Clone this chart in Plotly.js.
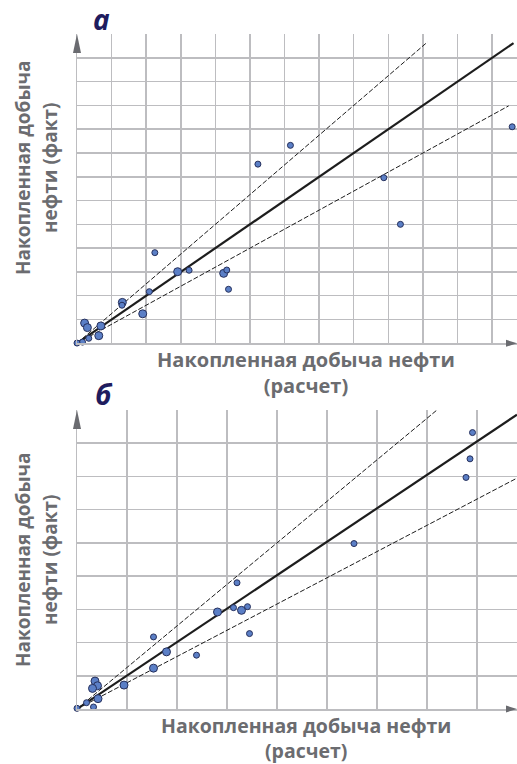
<!DOCTYPE html>
<html><head><meta charset="utf-8">
<script src="https://cdn.plot.ly/plotly-3.0.1.min.js"></script>
<style>html,body{margin:0;padding:0;background:#fff}#chart{width:517px;height:764px}</style>
</head><body><div id="chart"></div>
<script>
// ---- Panel а data (axis units = grid cells) ----
const aSmallX = [6.17, 5.23, 8.87, 12.58, 9.35, 2.25, 3.24, 4.33, 4.38, 2.09, 1.30, 0.34, 0.16, 0.00];
const aSmallY = [8.32, 7.53, 6.96, 9.10, 5.00, 3.81, 3.07, 3.08, 2.27, 2.17, 1.60, 0.21, 0.05, 0.01];
const aBigX = [2.91, 4.24, 1.31, 1.90, 0.22, 0.30, 0.69, 0.63];
const aBigY = [3.01, 2.94, 1.72, 1.24, 0.85, 0.66, 0.73, 0.32];
const aEqualX = [0, 12.62], aEqualY = [0, 12.62];
const aUpperX = [0, 10.13], aUpperY = [0, 12.66];
const aLowerX = [0, 12.48], aLowerY = [0, 9.98];

// ---- Panel б data ----
const bSmallX = [7.91, 7.86, 7.78, 5.54, 3.20, 3.13, 3.41, 3.45, 1.53, 2.39, 0.19, 0.33, 0.00];
const bSmallY = [8.32, 7.53, 6.97, 4.98, 3.80, 3.05, 3.08, 2.27, 2.17, 1.62, 0.19, 0.06, 0.02];
const bBigX = [2.81, 3.29, 1.79, 1.53, 0.94, 0.36, 0.41, 0.31, 0.42];
const bBigY = [2.92, 2.97, 1.72, 1.23, 0.72, 0.84, 0.70, 0.62, 0.31];
const bEqualX = [0, 8.8], bEqualY = [0, 8.86];
const bUpperX = [0, 7.2], bUpperY = [0, 9.0];
const bLowerX = [0, 8.8], bLowerY = [0, 6.95];

const panelLabels = ['а', 'б'];
const yTitleLines = ['Накопленная добыча', 'нефти (факт)'];
const xTitle = 'Накопленная добыча нефти<br>(расчет)';

// ---- styles ----
const W = 517, H = 764;
const xDom = [77 / W, 1];
const yDomA = [(H - 343.3) / H, (H - 34) / H];
const yDomB = [(H - 709) / H, (H - 410) / H];
const markerFill = '#5b7fc6', markerLine = '#26305c';
const gridCol = '#bdbdc0';
const fam = 'Open Sans, DejaVu Sans, sans-serif';
const xTitleFont = {family: fam, size: 20, color: '#6b6c70', weight: 'bold'};
const xTitleFontB = {family: fam, size: 19.5, color: '#6b6c70', weight: 'bold'};
const yTitleFont = {family: fam, size: 19, color: '#6b6c70', weight: 'bold'};
const labelFont = {family: fam, size: 28, color: '#1f1c5e', weight: 'bold', style: 'italic'};

function pts(x, y, xa, ya, size) {
  return {x: x, y: y, xaxis: xa, yaxis: ya, type: 'scatter', mode: 'markers', hoverinfo: 'skip',
    marker: {size: size, color: markerFill, line: {color: markerLine, width: 1}}, cliponaxis: false};
}
function ln(x, y, xa, ya, dash, width) {
  return {x: x, y: y, xaxis: xa, yaxis: ya, type: 'scatter', mode: 'lines', hoverinfo: 'skip',
    line: {color: '#1d1d1d', width: width, dash: dash}};
}

const data = [
  ln(aUpperX, aUpperY, 'x', 'y', '5px,2px', 1),
  ln(aLowerX, aLowerY, 'x', 'y', '5px,2px', 1),
  ln(aEqualX, aEqualY, 'x', 'y', 'solid', 2.2),
  pts(aBigX, aBigY, 'x', 'y', 8),
  pts(aSmallX, aSmallY, 'x', 'y', 6),
  ln(bUpperX, bUpperY, 'x2', 'y2', '5px,2px', 1),
  ln(bLowerX, bLowerY, 'x2', 'y2', '5px,2px', 1),
  ln(bEqualX, bEqualY, 'x2', 'y2', 'solid', 2.2),
  pts(bBigX, bBigY, 'x2', 'y2', 8),
  pts(bSmallX, bSmallY, 'x2', 'y2', 6)
];

function ax(dom, range, anchor) {
  return {domain: dom, range: range, anchor: anchor, dtick: 1, tick0: 0, showticklabels: false, ticks: '',
    showgrid: true, gridcolor: gridCol, gridwidth: 1.5, zeroline: false,
    showline: true, linecolor: gridCol, linewidth: 1.5, fixedrange: true};
}

const arrowCol = '#6a6b70';
function upArrow(yTop) {
  return {type: 'path', xref: 'paper', yref: 'paper', xsizemode: 'pixel', ysizemode: 'pixel',
    xanchor: xDom[0], yanchor: yTop, path: 'M-4,-19 L4,-19 L0,0 Z', fillcolor: arrowCol, line: {width: 0}, layer: 'above'};
}
function rightArrow(yBot) {
  return {type: 'path', xref: 'paper', yref: 'paper', xsizemode: 'pixel', ysizemode: 'pixel',
    xanchor: 1, yanchor: yBot, path: 'M-11,3.5 L-11,-3.5 L0,0 Z', fillcolor: arrowCol, line: {width: 0}, layer: 'above'};
}

function note(text, px, py, font, angle) {
  return {text: text, x: px / W, y: (H - py) / H, xref: 'paper', yref: 'paper', showarrow: false,
    textangle: angle || 0, font: font, xanchor: 'center', yanchor: 'middle', borderpad: 0};
}

const layout = {
  width: W, height: H, margin: {l: 0, r: 0, t: 0, b: 0},
  paper_bgcolor: '#fff', plot_bgcolor: '#fff', showlegend: false,
  xaxis: ax(xDom, [0, 12.72], 'y'),
  yaxis: ax(yDomA, [0, 13], 'x'),
  xaxis2: ax(xDom, [0, 8.8], 'y2'),
  yaxis2: ax(yDomB, [0, 9], 'x2'),
  shapes: [upArrow(yDomA[1]), rightArrow(yDomA[0]), upArrow(yDomB[1]), rightArrow(yDomB[0])],
  annotations: [
    note(panelLabels[0], 101, 19, labelFont),
    note(panelLabels[1], 104, 394, labelFont),
    note(yTitleLines[0], 23, 168, yTitleFont, -90),
    note(yTitleLines[1], 50, 168, yTitleFont, -90),
    note(yTitleLines[0], 23, 560, yTitleFont, -90),
    note(yTitleLines[1], 50, 560, yTitleFont, -90),
    note(xTitle, 306, 373, xTitleFont),
    note(xTitle, 306, 738, xTitleFontB)
  ]
};

Plotly.newPlot('chart', data, layout, {staticPlot: true, displayModeBar: false});
</script></body></html>
